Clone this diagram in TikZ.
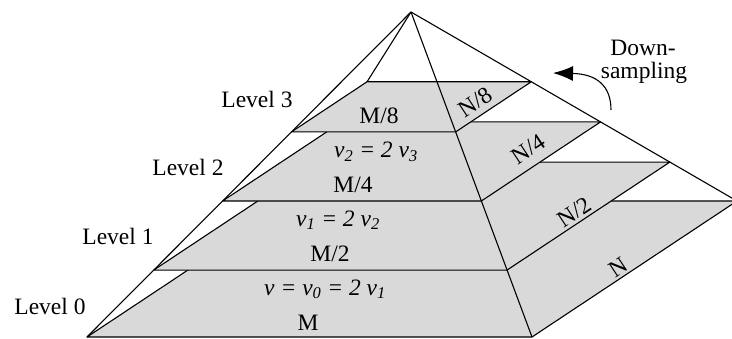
\documentclass[tikz,border=0pt]{standalone}
\usepackage{fontspec}
\setmainfont{Liberation Serif}
\usetikzlibrary{calc,arrows.meta}
\begin{document}
\begin{tikzpicture}[x=1pt,y=-1pt,line width=1.1pt,line join=round,
  plane/.style={fill=black!15,draw=black},
  edge/.style={draw=black},
  lbl/.style={font=\fontsize{23.5}{28}\selectfont,inner sep=0pt,anchor=base},
  sidelbl/.style={font=\fontsize{23.5}{28}\selectfont,inner sep=0pt,rotate=33.5}]
\useasboundingbox (0,0) rectangle (732,338);
\clip (0,0) rectangle (732,338);
% pyramid corners
\coordinate (A) at (411,12);
\coordinate (L) at (87,337);
\coordinate (F) at (532,337);
\coordinate (R) at (737,201);
\coordinate (B) at (292,201);
% back edges
\draw[edge] (A) -- (L);
\draw[edge] (A) -- (B);
\draw[edge] (A) -- (R);
% level planes
\path[plane] (L) -- (F) -- (R) -- (B) -- cycle;
\foreach \t/\n in {0.794/1,0.5815/2,0.369/3}{
  \path[plane] ($(A)!\t!(L)$) -- ($(A)!\t!(F)$) -- ($(A)!\t!(R)$) -- ($(A)!\t!(B)$) -- cycle;
}
% front edge
\draw[edge] (A) -- (F);
% level labels
\node[lbl] (lv3) at (257,107) {Level 3};
\node[lbl] (lv2) at (188,175) {Level 2};
\node[lbl] (lv1) at (118,244) {Level 1};
\node[lbl] (lv0) at (50,314) {Level 0};
% plane texts
\node[lbl] (m8) at (379,123) {M/8};
\node[lbl] (e2) at (376,157.5) {\itshape v\textsubscript{2} = 2 v\textsubscript{3}};
\node[lbl] (m4) at (353,192) {M/4};
\node[lbl] (e1) at (338,226) {\itshape v\textsubscript{1} = 2 v\textsubscript{2}};
\node[lbl] (m2) at (330,261) {M/2};
\node[lbl] (e0) at (325,295) {\itshape v = v\textsubscript{0} = 2 v\textsubscript{1}};
\node[lbl] (m1) at (308,330) {M};
% side texts
\node[sidelbl] (n8) at (475,102) {N/8};
\node[sidelbl] (n4) at (528,149) {N/4};
\node[sidelbl] (n2) at (574,212) {N/2};
\node[sidelbl] (n1) at (618,267) {N};
% down-sampling
\node[lbl] (ds1) at (643,55) {Down-};
\node[lbl] (ds2) at (644,78) {sampling};
\coordinate (as) at (611,110);
\coordinate (ae) at (553,73);
\draw[-{Latex[length=20pt,width=15pt]}] (as) .. controls (611,86) and (597,74) .. (ae);
\end{tikzpicture}
\end{document}
